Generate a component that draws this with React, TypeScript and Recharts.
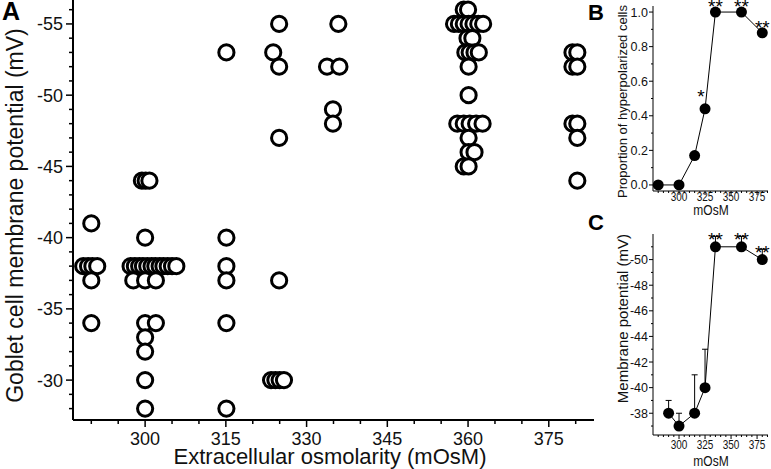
import React from "react";
import {
  ScatterChart,
  Scatter,
  XAxis,
  YAxis,
  ComposedChart,
  Line,
  ErrorBar,
  LabelList,
} from "recharts";

const FONT = '"Liberation Sans", Arial, Helvetica, sans-serif';

// Panel A: single cells, [mOsM (with jitter), membrane potential mV]
const cells290: [number, number][] = [
  [290.0, -41],
  [288.5, -38], [289.4, -38], [290.2, -38], [291.1, -38],
  [290.0, -37],
  [290.0, -34],
];
const cells300: [number, number][] = [
  [299.4, -44], [300.1, -44], [300.8, -44],
  [300.0, -40],
  [297.3, -38], [298.1, -38], [298.9, -38], [299.6, -38], [300.4, -38], [301.2, -38],
  [301.9, -38], [302.7, -38], [303.4, -38], [304.2, -38], [305.0, -38], [305.8, -38],
  [297.8, -37], [300.0, -37], [302.0, -37],
  [300.0, -34], [302.0, -34],
  [300.0, -33],
  [300.0, -32],
  [300.0, -30],
  [300.0, -28],
];
const cells315: [number, number][] = [
  [315.1, -53], [315.1, -40], [315.1, -38], [315.1, -37], [315.1, -34], [315.1, -28],
];
const cells325: [number, number][] = [
  [324.9, -55], [323.8, -53], [324.9, -52], [324.9, -47], [324.9, -37],
  [323.4, -30], [324.2, -30], [325.0, -30], [325.8, -30],
];
const cells335: [number, number][] = [
  [335.9, -55], [333.8, -52], [336.1, -52], [334.9, -49], [334.9, -48],
];
const cells360: [number, number][] = [
  [359.2, -56], [360.0, -56],
  [357.4, -55], [358.3, -55], [359.2, -55], [360.1, -55], [361.0, -55], [361.9, -55], [362.8, -55],
  [359.9, -54], [360.8, -54],
  [359.5, -53], [360.3, -53], [361.2, -53], [362.0, -53],
  [360.1, -52],
  [360.1, -50],
  [358.0, -48], [359.2, -48], [360.3, -48], [361.5, -48], [362.7, -48],
  [360.1, -47],
  [360.1, -46], [361.2, -46],
  [359.2, -45], [360.1, -45],
];
const cells380: [number, number][] = [
  [379.4, -53], [380.3, -53],
  [379.4, -52], [380.3, -52],
  [379.4, -48], [380.3, -48],
  [380.3, -47],
  [380.3, -44],
];

const ticksAX = [290, 295, 300, 305, 310, 315, 320, 325, 330, 335, 340, 345, 350, 355, 360, 365, 370, 375, 380];
const majorAX = [300, 315, 330, 345, 360, 375];
const ticksAY = [-56, -55, -54, -53, -52, -51, -50, -49, -48, -47, -46, -45, -44, -43, -42, -41, -40,
  -39, -38, -37, -36, -35, -34, -33, -32, -31, -30, -29, -28];

// Panel B: proportion of hyperpolarized cells
const osmB = [280, 300, 315, 325, 335, 360, 380];
const propB = [0, 0, 0.17, 0.44, 1.0, 1.0, 0.88];
const sigB = ["", "", "", "*", "**", "**", "**"];

// Panel C: mean membrane potential with error
const osmC = [290, 300, 315, 325, 335, 360, 380];
const meanC = [-38, -37, -38, -40, -51, -51, -50];
const errC = [1, 1, 3, 3, 0.8, 0.8, 0.8];
const sigC = ["", "", "", "", "**", "**", "**"];

const ticksBCX = [280, 285, 290, 295, 300, 305, 310, 315, 320, 325, 330, 335, 340, 345, 350, 355, 360, 365, 370, 375, 380, 385];
const ticksBY = [0, 0.1, 0.2, 0.3, 0.4, 0.5, 0.6, 0.7, 0.8, 0.9, 1.0];
const ticksCY = [-51, -50, -49, -48, -47, -46, -45, -44, -43, -42, -41, -40, -39, -38, -37];

const dataA = [...cells290, ...cells300, ...cells315, ...cells325, ...cells335, ...cells360, ...cells380].map(
  ([x, y]) => ({ x, y })
);
const dataB = osmB.map((x, i) => ({ x, p: propB[i], sig: sigB[i] }));
const dataC = osmC.map((x, i) => ({ x, v: meanC[i], e: [errC[i], 0], sig: sigC[i] }));

const OpenCircle = (p: any) => (
  <circle cx={p.cx} cy={p.cy} r={7.6} fill="#fff" stroke="#000" strokeWidth={3} />
);

const XTickA = (props: any) => {
  const { x, y, payload } = props;
  const major = majorAX.includes(payload.value);
  return (
    <g>
      <line x1={x} x2={x} y1={y} y2={y + (major ? 7 : 4)} stroke="#000" strokeWidth={1.5} />
      {major && (
        <text x={x} y={y + 25} textAnchor="middle" fontSize={18} fontFamily={FONT} fill="#111">
          {payload.value}
        </text>
      )}
    </g>
  );
};

const YTickA = (props: any) => {
  const { x, y, payload } = props;
  const major = payload.value % 5 === 0;
  return (
    <g>
      <line x1={x - (major ? 7 : 4)} x2={x} y1={y} y2={y} stroke="#000" strokeWidth={1.5} />
      {major && (
        <text x={x - 10} y={y} dy="0.36em" textAnchor="end" fontSize={18} fontFamily={FONT} fill="#111">
          {payload.value}
        </text>
      )}
    </g>
  );
};

const makeXTickBC = (gap: number) => (props: any) => {
  const { x, y, payload } = props;
  const major = payload.value % 25 === 0;
  return (
    <g>
      <line x1={x} x2={x} y1={y} y2={y + (major ? 4 : 2)} stroke="#000" strokeWidth={1} />
      {major && (
        <text
          transform={`translate(${x},${y + gap}) scale(0.8,1)`}
          x={0}
          y={0}
          dy="0.71em"
          textAnchor="middle"
          fontSize={12.5}
          fontFamily={FONT}
          fill="#111"
        >
          {payload.value}
        </text>
      )}
    </g>
  );
};
const XTickB = makeXTickBC(1);
const XTickC = makeXTickBC(5);

const YTickB = (props: any) => {
  const { x, y, payload } = props;
  const major = Math.round(payload.value * 10) % 2 === 0;
  return (
    <g>
      <line x1={x - (major ? 4 : 2)} x2={x} y1={y} y2={y} stroke="#000" strokeWidth={1} />
      {major && (
        <text x={x - 5} y={y} dy="0.36em" textAnchor="end" fontSize={12.5} fontFamily={FONT} fill="#111">
          {payload.value.toFixed(1)}
        </text>
      )}
    </g>
  );
};

const YTickC = (props: any) => {
  const { x, y, payload } = props;
  const major = payload.value % 2 === 0;
  return (
    <g>
      <line x1={x - (major ? 4 : 2)} x2={x} y1={y} y2={y} stroke="#000" strokeWidth={1} />
      {major && (
        <text x={x - 5} y={y} dy="0.36em" textAnchor="end" fontSize={12.5} fontFamily={FONT} fill="#111">
          {payload.value}
        </text>
      )}
    </g>
  );
};

const FilledDot = (p: any) => <circle key={p.index} cx={p.cx} cy={p.cy} r={5.5} fill="#000" />;

const makeStars = (dyDouble: number) => (props: any) => {
  const { value } = props;
  if (!value) return null;
  const x = props.x ?? props.viewBox?.x;
  const y = props.y ?? props.viewBox?.y;
  const single = value === "*";
  return (
    <text
      x={x + (single ? -4 : 0)}
      y={y + (single ? -6 : dyDouble)}
      textAnchor="middle"
      fontSize={19}
      fontFamily={FONT}
      fill="#000"
    >
      {value}
    </text>
  );
};
const StarsB = makeStars(1);
const StarsC = makeStars(-1);

const Letter = ({ ch, left, top, size }: { ch: string; left: number; top: number; size: number }) => (
  <div
    style={{
      position: "absolute",
      left,
      top,
      fontFamily: FONT,
      fontWeight: "bold",
      fontSize: size,
      lineHeight: 1,
      color: "#000",
    }}
  >
    {ch}
  </div>
);

const VTitle = ({ text, cx, cy, size }: { text: string; cx: number; cy: number; size: number }) => (
  <div
    style={{
      position: "absolute",
      left: cx - 250,
      top: cy - size / 2,
      width: 500,
      height: size,
      lineHeight: `${size}px`,
      textAlign: "center",
      fontFamily: FONT,
      fontSize: size,
      transform: "rotate(-90deg)",
      whiteSpace: "nowrap",
      color: "#111",
    }}
  >
    {text}
  </div>
);

const HTitle = ({ text, cx, cy, size, sx = 1 }: { text: string; cx: number; cy: number; size: number; sx?: number }) => (
  <div
    style={{
      position: "absolute",
      left: cx - 250,
      top: cy - size / 2,
      width: 500,
      height: size,
      lineHeight: `${size}px`,
      textAlign: "center",
      fontFamily: FONT,
      fontSize: size,
      transform: `scaleX(${sx})`,
      whiteSpace: "nowrap",
      color: "#111",
    }}
  >
    {text}
  </div>
);

export default function App() {
  return (
    <div style={{ position: "absolute", left: 0, top: 0, width: 771, height: 469, background: "#fff", overflow: "hidden" }}>
      {/* A: scatter of single cells */}
      <div style={{ position: "absolute", left: 0, top: 0 }}>
        <ScatterChart width={600} height={469} margin={{ top: 0, right: 6, bottom: 0, left: 0 }}>
          <XAxis
            type="number"
            dataKey="x"
            domain={[286.6, 383.4]}
            ticks={ticksAX}
            interval={0}
            tick={<XTickA />}
            tickLine={false}
            tickSize={0}
            tickMargin={0}
            height={49}
            axisLine={{ stroke: "#000", strokeWidth: 2 }}
          />
          <YAxis
            type="number"
            dataKey="y"
            reversed
            domain={[-56.68, -27.2]}
            ticks={ticksAY}
            interval={0}
            tick={<YTickA />}
            tickLine={false}
            tickSize={0}
            tickMargin={0}
            width={73}
            axisLine={{ stroke: "#000", strokeWidth: 2 }}
          />
          <Scatter data={dataA} shape={OpenCircle} isAnimationActive={false} />
        </ScatterChart>
      </div>

      {/* B: proportion */}
      <div style={{ position: "absolute", left: 580, top: 0 }}>
        <ComposedChart width={191} height={220} data={dataB} margin={{ top: 6, right: 3, bottom: 0, left: 0 }}>
          <XAxis
            type="number"
            dataKey="x"
            domain={[275, 385.5]}
            ticks={ticksBCX}
            interval={0}
            tick={<XTickB />}
            tickLine={false}
            tickSize={0}
            tickMargin={0}
            height={29}
            axisLine={{ stroke: "#000", strokeWidth: 1 }}
          />
          <YAxis
            type="number"
            domain={[-0.035, 1.035]}
            ticks={ticksBY}
            interval={0}
            tick={<YTickB />}
            tickLine={false}
            tickSize={0}
            tickMargin={0}
            width={73}
            axisLine={{ stroke: "#000", strokeWidth: 1 }}
          />
          <Line
            dataKey="p"
            stroke="#000"
            strokeWidth={1}
            dot={FilledDot}
            activeDot={false}
            isAnimationActive={false}
          >
            <LabelList dataKey="sig" content={StarsB} />
          </Line>
        </ComposedChart>
      </div>

      {/* C: mean membrane potential */}
      <div style={{ position: "absolute", left: 580, top: 220 }}>
        <ComposedChart width={191} height={249} data={dataC} margin={{ top: 14, right: 3, bottom: 0, left: 0 }}>
          <XAxis
            type="number"
            dataKey="x"
            domain={[275, 385.5]}
            ticks={ticksBCX}
            interval={0}
            tick={<XTickC />}
            tickLine={false}
            tickSize={0}
            tickMargin={0}
            height={34}
            axisLine={{ stroke: "#000", strokeWidth: 1 }}
          />
          <YAxis
            type="number"
            reversed
            domain={[-52, -36.3]}
            ticks={ticksCY}
            interval={0}
            tick={<YTickC />}
            tickLine={false}
            tickSize={0}
            tickMargin={0}
            width={73}
            axisLine={{ stroke: "#000", strokeWidth: 1 }}
          />
          <Line
            dataKey="v"
            stroke="#000"
            strokeWidth={1}
            dot={FilledDot}
            activeDot={false}
            isAnimationActive={false}
          >
            <ErrorBar dataKey="e" direction="y" width={3} stroke="#000" strokeWidth={1} />
            <LabelList dataKey="sig" content={StarsC} />
          </Line>
        </ComposedChart>
      </div>

      <Letter ch="A" left={2} top={-1} size={25} />
      <Letter ch="B" left={588} top={2} size={22} />
      <Letter ch="C" left={588} top={212} size={22} />

      <VTitle text="Goblet cell membrane potential (mV)" cx={15} cy={215} size={23} />
      <HTitle text="Extracellular osmolarity (mOsM)" cx={330} cy={457} size={22} />

      <VTitle text="Proportion of hyperpolarized cells" cx={622} cy={101} size={13} />
      <HTitle text="mOsM" cx={711} cy={209} size={15} sx={0.8} />

      <VTitle text="Membrane potential (mV)" cx={622} cy={318} size={15} />
      <HTitle text="mOsM" cx={711} cy={460} size={15} sx={0.8} />
    </div>
  );
}
